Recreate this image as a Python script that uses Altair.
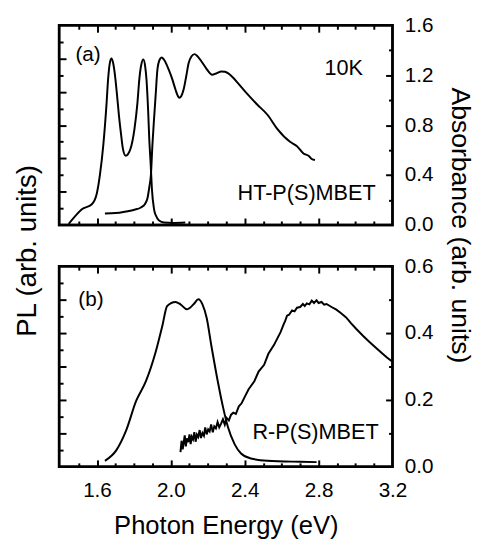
import altair as alt
import pandas as pd

# ---------------- data ----------------
# Panel (a): HT-P(S)MBET, 10K
top_pl_e = [1.447, 1.483, 1.518, 1.572, 1.598, 1.616, 1.634, 1.652, 1.660, 1.669, 1.678, 1.688,
            1.696, 1.707, 1.719, 1.731, 1.740, 1.755, 1.768, 1.781, 1.803, 1.819, 1.829, 1.840,
            1.851, 1.861, 1.868, 1.877, 1.883, 1.891, 1.897, 1.909, 1.920, 1.936, 1.963, 2.016, 2.078]
top_pl_v = [0.03, 0.27, 0.47, 0.62, 0.92, 1.51, 2.39, 3.67, 4.37, 4.85, 5.00, 4.85,
            4.56, 3.99, 3.28, 2.69, 2.30, 2.08, 2.13, 2.28, 2.89, 3.67, 4.37, 4.82,
            4.97, 4.76, 4.37, 3.43, 2.59, 1.80, 1.11, 0.47, 0.27, 0.13, 0.07, 0.06, 0.07]

top_ab_e = [1.643, 1.701, 1.758, 1.803, 1.838, 1.859, 1.874, 1.883, 1.892, 1.900, 1.909, 1.918,
            1.927, 1.939, 1.950, 1.963, 1.989, 2.008, 2.025, 2.037, 2.046, 2.056, 2.069, 2.083,
            2.096, 2.112, 2.128, 2.144, 2.167, 2.192, 2.224, 2.245, 2.274, 2.293, 2.309, 2.336,
            2.363, 2.416, 2.466, 2.523, 2.576, 2.647, 2.683, 2.718, 2.747, 2.763, 2.780]
top_ab_v = [0.092, 0.095, 0.108, 0.122, 0.140, 0.166, 0.218, 0.300, 0.402, 0.638, 0.851, 1.048,
            1.243, 1.324, 1.342, 1.324, 1.243, 1.167, 1.085, 1.036, 1.019, 1.032, 1.085, 1.190,
            1.295, 1.352, 1.369, 1.352, 1.308, 1.253, 1.204, 1.214, 1.230, 1.227, 1.216, 1.182,
            1.137, 1.046, 0.967, 0.883, 0.770, 0.664, 0.631, 0.573, 0.552, 0.528, 0.520]

# Panel (b): R-P(S)MBET
bot_pl_e = [1.643, 1.705, 1.758, 1.812, 1.865, 1.918, 1.954, 1.980, 2.025, 2.052, 2.087, 2.123,
            2.149, 2.171, 2.194, 2.220, 2.256, 2.283, 2.309, 2.345, 2.380, 2.434, 2.523, 2.700, 2.789]
bot_pl_v = [0.18, 0.50, 1.09, 1.97, 2.56, 3.44, 4.22, 4.81, 4.93, 4.86, 4.71, 4.86,
            5.01, 4.86, 4.45, 3.60, 2.50, 1.77, 1.19, 0.68, 0.40, 0.25, 0.18, 0.15, 0.14]

bot_ab_e = [2.052, 2.058, 2.064, 2.069, 2.075, 2.081, 2.087, 2.094, 2.101, 2.107, 2.113, 2.120,
            2.127, 2.134, 2.141, 2.148, 2.156, 2.163, 2.171, 2.179, 2.186, 2.194, 2.202, 2.210,
            2.218, 2.227, 2.235, 2.244, 2.253, 2.262, 2.272, 2.282, 2.292, 2.302, 2.314, 2.326,
            2.338, 2.352, 2.368, 2.383, 2.398, 2.421, 2.452, 2.475, 2.505, 2.528, 2.558, 2.594,
            2.610, 2.620, 2.629, 2.640, 2.656, 2.670, 2.683, 2.700, 2.715, 2.725, 2.736, 2.750,
            2.763, 2.775, 2.789, 2.800, 2.816, 2.830, 2.843, 2.870, 2.896, 2.920, 2.949, 2.975,
            3.003, 3.040, 3.074, 3.110, 3.145, 3.170, 3.198]
bot_ab_v = [0.044, 0.078, 0.052, 0.070, 0.094, 0.061, 0.085, 0.074, 0.097, 0.068, 0.090, 0.082,
            0.104, 0.075, 0.096, 0.089, 0.110, 0.086, 0.101, 0.093, 0.118, 0.097, 0.112, 0.106,
            0.127, 0.103, 0.121, 0.115, 0.134, 0.118, 0.129, 0.142, 0.126, 0.146, 0.139, 0.156,
            0.162, 0.158, 0.181, 0.190, 0.207, 0.232, 0.256, 0.285, 0.305, 0.338, 0.364, 0.403,
            0.425, 0.438, 0.452, 0.455, 0.468, 0.465, 0.476, 0.478, 0.487, 0.481, 0.489, 0.486,
            0.497, 0.490, 0.498, 0.490, 0.493, 0.485, 0.487, 0.478, 0.470, 0.460, 0.447, 0.430,
            0.413, 0.392, 0.374, 0.356, 0.339, 0.327, 0.315]

# annotations
top_pl_txt = ["(a)"]
top_pl_txt_e = [1.483]
top_pl_txt_v = [5.11]
top_ab_txt = ["10K", "HT-P(S)MBET"]
top_ab_txt_e = [3.040, 3.109]
top_ab_txt_v = [1.253, 0.256]
bot_pl_txt = ["(b)"]
bot_pl_txt_e = [1.499]
bot_pl_txt_v = [5.0]
bot_ab_txt = ["R-P(S)MBET"]
bot_ab_txt_e = [3.125]
bot_ab_txt_v = [0.103]

# axes
x_domain = [1.395, 3.2]
x_minor_ticks = [1.5, 1.6, 1.7, 1.8, 1.9, 2.0, 2.1, 2.2, 2.3, 2.4, 2.5, 2.6, 2.7, 2.8, 2.9, 3.0, 3.1]
x_labels = [1.6, 2.0, 2.4, 2.8, 3.2]
pl_domain = [0, 6]
pl_ticks = [0.5, 1, 1.5, 2, 2.5, 3, 3.5, 4, 4.5, 5, 5.5]
top_ab_domain = [0, 1.6]
top_ab_ticks = [0.2, 0.4, 0.6, 0.8, 1.0, 1.2, 1.4]
top_ab_labels = [0.0, 0.4, 0.8, 1.2, 1.6]
bot_ab_domain = [0, 0.6]
bot_ab_ticks = [0.1, 0.2, 0.3, 0.4, 0.5]
bot_ab_labels = [0.0, 0.2, 0.4, 0.6]

# ---------------- layout constants ----------------
W = 339
H_TOP = 203
H_BOT = 204
FONT = "Liberation Sans"


def xs():
    return alt.Scale(domain=x_domain, nice=False, zero=False)


def pls():
    return alt.Scale(domain=pl_domain, nice=False, zero=False)


def tick_axis(orient, offset, values, test):
    return alt.Axis(orient=orient, offset=offset, values=values, labels=False,
                    domain=False, grid=False, tickWidth=2, tickColor="black",
                    tickSize={"condition": {"test": test, "value": 7}, "value": 4})


X_TEST = "abs(round(datum.value*10) % 4) == 0"
PL_TEST = "abs(round(datum.value*2) % 2) == 0"


def panel(pl_e, pl_v, ab_e, ab_v, pl_t, pl_te, pl_tv, ab_t, ab_te, ab_tv,
          ab_dom, ab_ticks, ab_test, ab_labels, h, top, ab_interp):
    pl_df = pd.DataFrame({"e": pl_e, "v": pl_v})
    ab_df = pd.DataFrame({"e": ab_e, "v": ab_v})
    plt_df = pd.DataFrame({"e": pl_te, "v": pl_tv, "t": pl_t})
    abt_df = pd.DataFrame({"e": ab_te, "v": ab_tv, "t": ab_t})
    # frame outline: the four corners of the plotting domain, walked in order
    x0, x1 = x_domain
    y0, y1 = pl_domain
    frame_df = pd.DataFrame({"e": [x0, x1, x1, x0, x0], "v": [y0, y0, y1, y1, y0],
                             "k": [0, 1, 2, 3, 4]})

    frame = alt.Chart(frame_df).mark_line(color="black", strokeWidth=2.5,
                                          strokeCap="square", clip=False).encode(
        x=alt.X("e:Q", scale=xs(), axis=None),
        y=alt.Y("v:Q", scale=pls(), axis=None),
        order="k:Q",
    )

    pl_line = alt.Chart(pl_df).mark_line(color="black", strokeWidth=2, interpolate="monotone").encode(
        x=alt.X("e:Q", scale=xs(), title=None,
                axis=tick_axis("top", -h, x_minor_ticks, X_TEST)),
        y=alt.Y("v:Q", scale=pls(), title=None,
                axis=tick_axis("right", -W, pl_ticks, PL_TEST)),
    )
    ab_line = alt.Chart(ab_df).mark_line(color="black", strokeWidth=2, interpolate=ab_interp).encode(
        x=alt.X("e:Q", scale=xs(), title=None,
                axis=tick_axis("bottom", -h, x_minor_ticks, X_TEST)),
        y=alt.Y("v:Q", scale=alt.Scale(domain=ab_dom, nice=False, zero=False), title=None,
                axis=tick_axis("left", -W, ab_ticks, ab_test)),
    )

    ab_axis_kw = dict(orient="right", values=ab_labels, format=".1f", ticks=False, tickSize=0,
                      domain=False, grid=False, labelPadding=12, labelAlign="left",
                      labelBaseline="middle", labelFontSize=21, labelFlush=False,
                      labelOverlap=False)
    if top:
        ab_axis_kw.update(title="Absorbance (arb. units)", titleAngle=90, titleX=68, titleY=203,
                          titleAlign="center", titleBaseline="middle", titleFontSize=27,
                          titleFontWeight="normal")
    if top:
        x_txt = alt.X("e:Q", scale=xs(), axis=None)
    else:
        x_txt = alt.X("e:Q", scale=xs(), title="Photon Energy (eV)",
                      axis=alt.Axis(orient="bottom", values=x_labels, format=".1f", ticks=False,
                                    tickSize=0, domain=False, grid=False, labelPadding=30,
                                    labelBaseline="alphabetic", labelFontSize=21, labelFlush=False,
                                    labelOverlap=False, titleFontSize=26, titleX=W / 2, titleY=68,
                                    titleAlign="center", titleBaseline="alphabetic",
                                    titleFontWeight="normal"))
    ab_text = alt.Chart(abt_df).mark_text(align="right", baseline="middle", font=FONT,
                                          fontSize=22, color="black").encode(
        x=x_txt,
        y=alt.Y("v:Q", scale=alt.Scale(domain=ab_dom, nice=False, zero=False),
                axis=alt.Axis(**ab_axis_kw), title=None if not top else "Absorbance (arb. units)"),
        text="t:N",
    )

    if top:
        pl_y_axis = alt.Axis(orient="left", labels=False, ticks=False, domain=False, grid=False,
                             title="PL (arb. units)", titleAngle=270, titleX=-32, titleY=229,
                             titleAlign="center", titleBaseline="middle", titleFontSize=28,
                             titleFontWeight="normal")
        y_pl_txt = alt.Y("v:Q", scale=pls(), axis=pl_y_axis, title="PL (arb. units)")
    else:
        y_pl_txt = alt.Y("v:Q", scale=pls(), axis=None)
    pl_text = alt.Chart(plt_df).mark_text(align="left", baseline="middle", font=FONT,
                                          fontSize=21, color="black").encode(
        x=alt.X("e:Q", scale=xs(), axis=None),
        y=y_pl_txt,
        text="t:N",
    )

    return alt.layer(frame, pl_line, ab_line, ab_text, pl_text).resolve_scale(
        y="independent").resolve_axis(x="independent", y="independent").properties(width=W, height=h)


top_panel = panel(top_pl_e, top_pl_v, top_ab_e, top_ab_v,
                  top_pl_txt, top_pl_txt_e, top_pl_txt_v, top_ab_txt, top_ab_txt_e, top_ab_txt_v,
                  top_ab_domain, top_ab_ticks, "abs(round(datum.value*10) % 4) == 0", top_ab_labels,
                  H_TOP, True, "monotone")
bot_panel = panel(bot_pl_e, bot_pl_v, bot_ab_e, bot_ab_v,
                  bot_pl_txt, bot_pl_txt_e, bot_pl_txt_v, bot_ab_txt, bot_ab_txt_e, bot_ab_txt_v,
                  bot_ab_domain, bot_ab_ticks, "abs(round(datum.value*10) % 2) == 0", bot_ab_labels,
                  H_BOT, False, "linear")

chart = alt.vconcat(top_panel, bot_panel, spacing=42, bounds="flush").properties(
    padding={"left": 4, "top": 0, "right": 5, "bottom": 5},
    background="white",
).configure_view(
    stroke="black", strokeWidth=2.5
).configure_axis(
    labelFont=FONT, titleFont=FONT, labelColor="black", titleColor="black",
    titleFontWeight="normal", grid=False
)

chart.save("out.html", embed_options={"renderer": "svg", "actions": False})
